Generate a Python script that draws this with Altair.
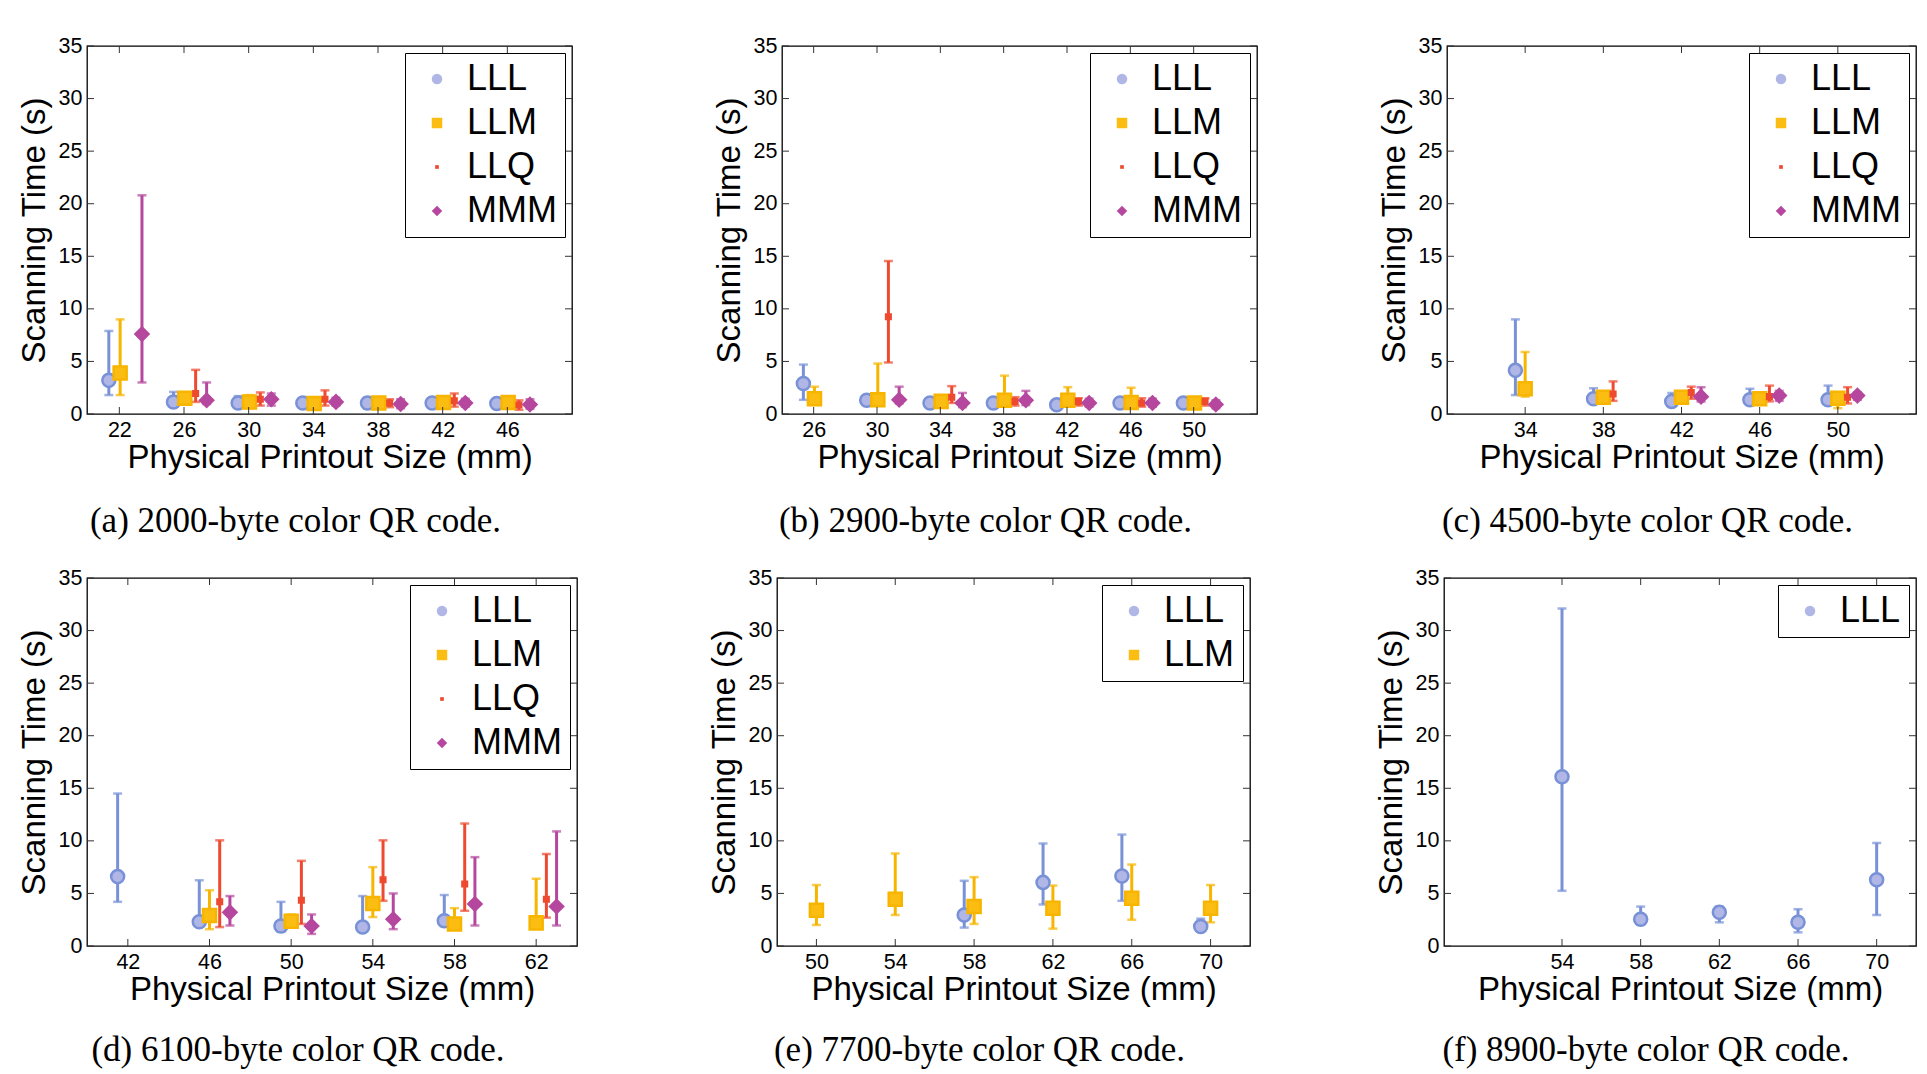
import altair as alt
import pandas as pd

SERIES = ["LLL", "LLM", "LLQ", "MMM"]
EDGE = ["#7891d7", "#f7b500", "#ee4a2f", "#b5479e"]
FILL = ["#b0b6e6", "#fbbd12", "#ee4a2f", "#b5479e"]
SHAPES = ["circle", "square", "M-0.35,-0.35L0.35,-0.35L0.35,0.35L-0.35,0.35Z", "diamond"]
Y_TICKS = [0, 5, 10, 15, 20, 25, 30, 35]

CAPTIONS = [
    "(a) 2000-byte color QR code.",
    "(b) 2900-byte color QR code.",
    "(c) 4500-byte color QR code.",
    "(d) 6100-byte color QR code.",
    "(e) 7700-byte color QR code.",
    "(f) 8900-byte color QR code.",
]

# each entry: [mean, low, high]  (None = not measured)
a_sizes = [22, 26, 30, 34, 38, 42, 46]
a_LLL = [[3.2, 1.8, 7.9], [1.15, 0.8, 2.1], [1.05, 0.7, 1.7], [1.05, 0.7, 1.4], [1.05, 0.5, 1.55], [1.05, 0.7, 1.4], [1.0, 0.65, 1.3]]
a_LLM = [[3.9, 1.8, 9.0], [1.5, 0.95, 1.9], [1.15, 0.55, 1.8], [1.0, 0.5, 1.55], [1.05, 0.65, 1.4], [1.1, 0.7, 1.5], [1.1, 0.7, 1.55]]
a_LLQ = [None, [1.95, 1.15, 4.2], [1.4, 0.8, 2.05], [1.4, 0.8, 2.25], [1.05, 0.65, 1.4], [1.25, 0.7, 1.95], [0.85, 0.4, 1.3]]
a_MMM = [[7.6, 3.0, 20.8], [1.3, 0.95, 3.0], [1.4, 0.8, 1.95], [1.15, 0.8, 1.55], [0.95, 0.55, 1.4], [1.05, 0.7, 1.45], [0.9, 0.5, 1.4]]

b_sizes = [26, 30, 34, 38, 42, 46, 50]
b_LLL = [[2.9, 1.35, 4.7], [1.3, 1.0, 1.6], [1.05, 0.8, 1.45], [1.05, 0.8, 1.35], [0.87, 0.6, 1.2], [1.05, 0.8, 1.45], [1.05, 0.8, 1.45]]
b_LLM = [[1.45, 0.95, 2.6], [1.35, 0.8, 4.8], [1.2, 0.8, 1.6], [1.3, 0.8, 3.65], [1.3, 0.85, 2.55], [1.1, 0.65, 2.5], [1.05, 0.7, 1.45]]
b_LLQ = [None, [9.25, 4.9, 14.55], [1.6, 1.05, 2.65], [1.2, 0.8, 1.6], [1.2, 0.8, 1.5], [1.05, 0.7, 1.5], [1.2, 0.8, 1.5]]
b_MMM = [None, [1.35, 1.0, 2.6], [1.05, 0.65, 2.0], [1.3, 0.85, 2.2], [1.05, 0.7, 1.45], [1.05, 0.7, 1.45], [0.9, 0.55, 1.3]]

c_sizes = [34, 38, 42, 46, 50]
c_LLL = [[4.15, 1.8, 9.0], [1.45, 1.05, 2.45], [1.2, 0.8, 2.0], [1.35, 0.95, 2.4], [1.35, 0.95, 2.7]]
c_LLM = [[2.4, 1.65, 5.9], [1.6, 1.2, 2.0], [1.6, 1.1, 1.9], [1.45, 1.05, 1.85], [1.5, 0.55, 1.9]]
c_LLQ = [None, [1.9, 1.25, 3.1], [2.05, 1.45, 2.6], [1.65, 1.2, 2.7], [1.6, 1.0, 2.55]]
c_MMM = [None, None, [1.65, 1.2, 2.55], [1.75, 1.25, 2.2], [1.75, 1.35, 2.05]]

d_sizes = [42, 46, 50, 54, 58, 62]
d_LLL = [[6.6, 4.2, 14.5], [2.3, 1.9, 6.25], [1.9, 1.35, 4.2], [1.8, 1.4, 4.75], [2.4, 1.9, 4.85], None]
d_LLM = [None, [2.9, 1.6, 5.3], [2.35, 1.9, 3.0], [4.05, 2.75, 7.5], [2.1, 1.6, 3.6], [2.2, 1.9, 6.4]]
d_LLQ = [None, [4.2, 1.8, 10.05], [4.35, 2.1, 8.1], [6.3, 4.3, 10.05], [5.9, 3.35, 11.65], [4.45, 2.7, 8.75]]
d_MMM = [None, [3.2, 1.95, 4.75], [1.9, 1.15, 3.0], [2.55, 1.6, 5.0], [4.0, 1.95, 8.45], [3.75, 1.95, 10.9]]

e_sizes = [50, 54, 58, 62, 66, 70]
e_LLL = [None, None, [2.95, 1.75, 6.2], [6.05, 3.95, 9.75], [6.65, 4.3, 10.6], [1.85, 1.65, 2.6]]
e_LLM = [[3.4, 2.0, 5.8], [4.45, 2.95, 8.8], [3.75, 2.1, 6.55], [3.6, 1.65, 5.75], [4.55, 2.5, 7.75], [3.6, 2.25, 5.8]]

f_sizes = [54, 58, 62, 66, 70]
f_LLL = [[16.1, 5.25, 32.1], [2.55, 2.05, 3.75], [3.2, 2.25, 3.75], [2.25, 1.3, 3.5], [6.3, 2.95, 9.8]]

# horizontal shift of each series around its size tick (in mm)
OFF_WIDE = {"LLL": -0.65, "LLM": 0.05, "LLQ": 0.72, "MMM": 1.4}
OFF_NARROW = {"LLL": -0.5, "LLM": 0.0, "LLQ": 0.5, "MMM": 1.0}
OFF_NONE = {"LLL": 0.0}

TICK_LEN = 7


def panel(sizes, data, offsets, domain, w, h, caption, cap_offset):
    names = [s for s in SERIES if s in data]
    idx = [SERIES.index(s) for s in names]
    recs = []
    for s in names:
        for size, v in zip(sizes, data[s]):
            if v is None:
                continue
            m, lo, hi = v
            recs.append(dict(series=s, grp=s, size=size, x=size + offsets[s], mean=m, lo=lo, hi=hi))
    df = pd.DataFrame(recs)

    xs = alt.Scale(domain=domain, nice=False, zero=False)
    ys = alt.Scale(domain=[0, 35], nice=False, zero=False)
    xax = alt.Axis(values=sizes, title="Physical Printout Size (mm)")
    yax = alt.Axis(values=Y_TICKS, title="Scanning Time (s)")
    X = alt.X("x:Q", scale=xs, axis=xax)

    def Y(field):
        return alt.Y(field + ":Q", scale=ys, axis=yax)

    # edge colours: data-driven domain (names are alphabetical) on a separate field,
    # so that these legend-less scales are never merged with the visible legend
    edge = alt.Scale(range=[EDGE[i] for i in idx])
    fill = alt.Scale(domain=names, range=[FILL[i] for i in idx])
    shp = alt.Scale(domain=names, range=[SHAPES[i] for i in idx])

    leg = alt.Legend(
        title=None, orient="top-right", offset=7, padding=8,
        strokeColor="black", fillColor="white", cornerRadius=0,
        labelFont="Liberation Sans", labelFontSize=36, labelColor="black",
        symbolSize=110, symbolStrokeWidth=0, rowPadding=8,
        symbolOffset=6, labelOffset=12,
    )

    base = alt.Chart(df)
    bars = base.mark_rule(strokeWidth=3).encode(
        x=X, y=Y("lo"), y2="hi:Q", stroke=alt.Stroke("grp:N", scale=edge, legend=None))
    capfill = alt.Fill("grp:N", scale=edge, legend=None)
    cap_lo = base.mark_tick(orient="horizontal", thickness=2.5, size=9).encode(x=X, y=Y("lo"), fill=capfill)
    cap_hi = base.mark_tick(orient="horizontal", thickness=2.5, size=9).encode(x=X, y=Y("hi"), fill=capfill)
    pts = base.mark_point(filled=True, strokeWidth=2.5, opacity=1, size=170).encode(
        x=X, y=Y("mean"),
        color=alt.Color("series:N", scale=fill, legend=leg),
        shape=alt.Shape("series:N", scale=shp, legend=leg),
        stroke=alt.Stroke("grp:N", scale=edge, legend=None),
    )

    tx = pd.DataFrame({"x": sizes})
    ty = pd.DataFrame({"mean": Y_TICKS})
    tk = dict(color="#333333", strokeWidth=1)
    bt = alt.Chart(tx).mark_rule(**tk).encode(x=X, y=alt.value(h), y2=alt.value(h - TICK_LEN))
    tt = alt.Chart(tx).mark_rule(**tk).encode(x=X, y=alt.value(0), y2=alt.value(TICK_LEN))
    lt = alt.Chart(ty).mark_rule(**tk).encode(y=Y("mean"), x=alt.value(0), x2=alt.value(TICK_LEN))
    rt = alt.Chart(ty).mark_rule(**tk).encode(y=Y("mean"), x=alt.value(w), x2=alt.value(w - TICK_LEN))

    return alt.layer(bars, cap_lo, cap_hi, pts, bt, tt, lt, rt).properties(
        width=w, height=h,
        title=alt.TitleParams(
            caption, orient="bottom", anchor="middle", dx=-34, offset=cap_offset,
            font="Liberation Serif", fontSize=35, fontWeight="normal", color="black",
        ),
    )


RES = dict(x="independent", y="independent", color="independent", fill="independent",
           shape="independent", stroke="independent")


def hc(*charts, spacing):
    return alt.hconcat(*charts, spacing=spacing, bounds="flush").resolve_scale(**RES)


pa = panel(a_sizes, {"LLL": a_LLL, "LLM": a_LLM, "LLQ": a_LLQ, "MMM": a_MMM}, OFF_WIDE, [20, 50], 485, 368, CAPTIONS[0], 29)
pb = panel(b_sizes, {"LLL": b_LLL, "LLM": b_LLM, "LLQ": b_LLQ, "MMM": b_MMM}, OFF_WIDE, [24, 54], 475, 368, CAPTIONS[1], 29)
pc = panel(c_sizes, {"LLL": c_LLL, "LLM": c_LLM, "LLQ": c_LLQ, "MMM": c_MMM}, OFF_NARROW, [30, 54], 469, 368, CAPTIONS[2], 29)
pd_ = panel(d_sizes, {"LLL": d_LLL, "LLM": d_LLM, "LLQ": d_LLQ, "MMM": d_MMM}, OFF_NARROW, [40, 64], 490, 368, CAPTIONS[3], 26)
pe = panel(e_sizes, {"LLL": e_LLL, "LLM": e_LLM}, OFF_NARROW, [48, 72], 473, 368, CAPTIONS[4], 26)
pf = panel(f_sizes, {"LLL": f_LLL}, OFF_NONE, [48, 72], 472, 368, CAPTIONS[5], 26)

row1 = hc(pa, hc(pb, pc, spacing=190), spacing=210)
row2 = hc(pd_, hc(pe, pf, spacing=194), spacing=200)

chart = (
    alt.vconcat(row1, row2, spacing=26)
    .resolve_scale(**RES)
    .properties(padding={"left": 9, "top": 26, "right": 0, "bottom": 0}, background="white")
    .configure_view(stroke="black", strokeWidth=1.3)
    .configure_axis(
        grid=False, domain=False, ticks=False,
        labelFont="Liberation Sans", labelFontSize=21.5, labelColor="black", labelPadding=5,
        titleFont="Liberation Sans", titleFontSize=33, titleFontWeight="normal", titleColor="black",
    )
    .configure_axisY(titlePadding=7)
    .configure_axisX(titlePadding=1)
)

chart.save("out.html", embed_options={"renderer": "svg", "actions": False})
